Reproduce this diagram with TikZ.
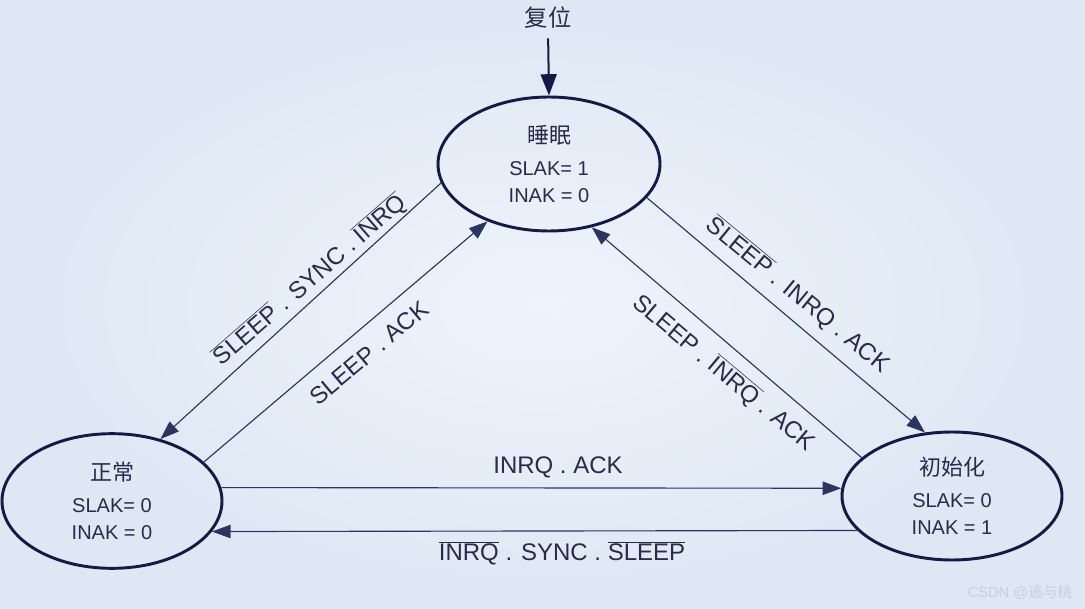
\documentclass[tikz,border=0pt]{standalone}
\usepackage{fontspec}
\setmainfont{Liberation Sans}
\newfontfamily\cjk{Noto Sans CJK SC}
\usetikzlibrary{shapes.geometric,arrows.meta}
\definecolor{bgin}{RGB}{238,244,251}
\definecolor{bgout}{RGB}{222,231,244}
\definecolor{ink}{RGB}{20,26,70}
\definecolor{lnk}{RGB}{45,52,95}
\definecolor{txt}{RGB}{40,44,72}
\definecolor{wm}{RGB}{200,206,220}
\newcommand\ovl[1]{$\overline{\mbox{#1}}$}
\begin{document}
\begin{tikzpicture}[x=0.75pt,y=-0.75pt,
  state/.style={ellipse, draw=ink, line width=2.2pt, inner sep=0pt, text=txt,
    align=center, font=\fontsize{15}{20}\selectfont},
  conn/.style={draw=lnk, line width=0.85pt, -{Triangle[length=14pt,width=10pt]}},
  lbl/.style={text=txt, font=\fontsize{18}{22}\selectfont, inner sep=0pt},
  cjklbl/.style={text=txt, font=\cjk\fontsize{17.5}{20}\selectfont}]
\shade[inner color=bgin, outer color=bgout] (0,0) rectangle (1085,609);
\useasboundingbox (0,0) rectangle (1085,609);

\node[cjklbl, inner sep=1pt] (reset) at (548,18) {复位};

\node[state, minimum width=166.5pt, minimum height=100.5pt] (sleep) at (549,164)
  {{\cjk\fontsize{16.5}{20}\selectfont 睡眠}\\[4pt]SLAK= 1\\INAK = 0};
\node[state, minimum width=165pt, minimum height=101pt] (normal) at (112,501)
  {{\cjk\fontsize{16.5}{20}\selectfont 正常}\\[4pt]SLAK= 0\\INAK = 0};
\node[state, minimum width=165pt, minimum height=96pt] (init) at (952,496)
  {{\cjk\fontsize{16.5}{20}\selectfont 初始化}\\[4pt]SLAK= 0\\INAK = 1};

\draw[draw=ink, line width=1.5pt, -{Triangle[length=16pt,width=12pt]}, shorten <=6pt]
  (reset.south) -- (sleep.north);
\draw[conn] (sleep.190) -- (normal.52);
\draw[conn] (normal.23) -- (sleep.223);
\draw[conn] (sleep.341) -- (init.113);
\draw[conn] (init.157) -- (sleep.304);
\draw[conn] (normal.7) -- (init.176);
\draw[conn] (init.200) -- (normal.-17);

\node[lbl, rotate=41] (l2) at (310,280) {\ovl{SLEEP} . SYNC . \ovl{INRQ}};
\node[lbl, rotate=40] (l3) at (369,353) {SLEEP . ACK};
\node[lbl, rotate=-39.5] (l4) at (798,295) {\ovl{SLEEP} . INRQ . ACK};
\node[lbl, rotate=-40] (l5) at (724,373) {SLEEP . \ovl{INRQ} . ACK};
\node[lbl] (l6) at (558,467) {INRQ . ACK};
\node[lbl] (l7) at (562,553) {\ovl{INRQ} . SYNC . \ovl{SLEEP}};

\node[text=wm, font=\fontsize{11}{13}\selectfont, inner sep=0pt] (wmk) at (1020,592)
  {CSDN @{\cjk 逃与桃}};
\end{tikzpicture}
\end{document}
